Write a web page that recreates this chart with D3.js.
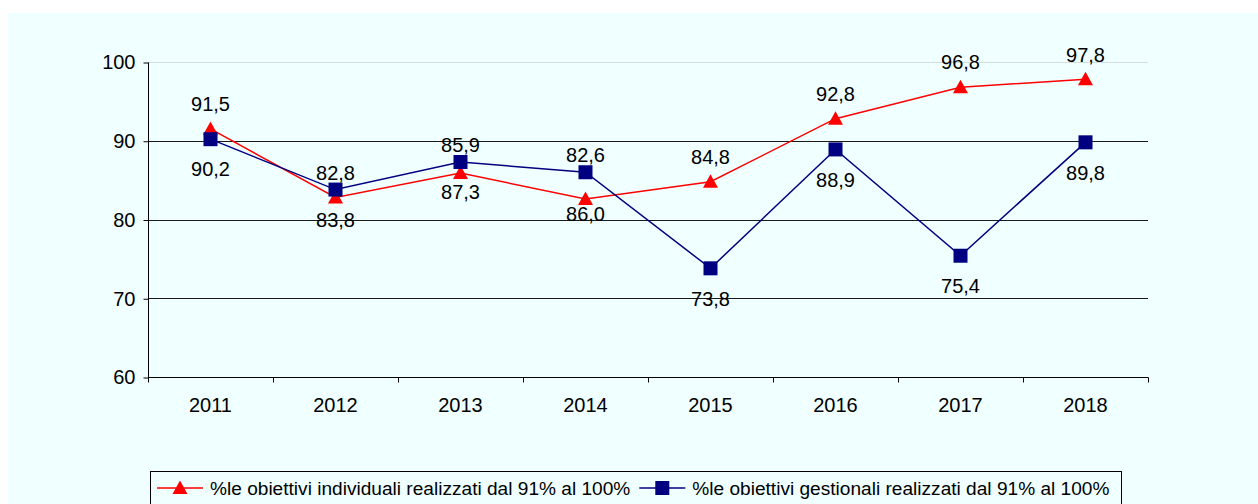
<!DOCTYPE html>
<html>
<head>
<meta charset="utf-8">
<script src="https://cdn.jsdelivr.net/npm/d3@7/dist/d3.min.js"></script>
<style>
  html, body { margin: 0; padding: 0; background: #ffffff; }
  svg { display: block; }
  text { font-family: "Liberation Sans", Arial, sans-serif; fill: #000; }
</style>
</head>
<body>
<svg id="chart" width="1258" height="504"></svg>
<script>
const years = ["2011", "2012", "2013", "2014", "2015", "2016", "2017", "2018"];
const individuali = [91.5, 82.8, 85.9, 82.6, 84.8, 92.8, 96.8, 97.8];
const gestionali  = [90.2, 83.8, 87.3, 86.0, 73.8, 88.9, 75.4, 89.8];
const yTicks = [60, 70, 80, 90, 100];
const seriesNames = [
  "%le obiettivi individuali realizzati dal 91% al 100%",
  "%le obiettivi gestionali realizzati dal 91% al 100%"
];
const fmt = v => d3.format(".1f")(v).replace(".", ",");

(function () {
const svg = d3.select("#chart");
const W = 1258, H = 504;
const FS = "20px";

// chart background
svg.append("rect").attr("x", 8).attr("y", 13).attr("width", W - 8).attr("height", H - 13)
  .attr("fill", "#F0FFFF");

const pLeft = 148, pRight = 1148, pTop = 62, pBottom = 377;
const x = d3.scaleBand().domain(years).range([pLeft, pRight]).padding(0);
const y = d3.scaleLinear().domain([60, 100]).range([pBottom, pTop]);
const cx = d => x(d) + x.bandwidth() / 2;

// gridlines
svg.append("g").selectAll("line").data(yTicks.filter(t => t > 60)).join("line")
  .attr("x1", pLeft).attr("x2", pRight)
  .attr("y1", d => Math.round(y(d)) + 0.5).attr("y2", d => Math.round(y(d)) + 0.5)
  .attr("stroke", d => d === 100 ? "#d3dede" : "#1a1a1a").attr("stroke-width", 1);

// y axis
const yAxis = d3.axisLeft(y).tickValues(yTicks).tickSize(5).tickPadding(8).tickFormat(d3.format("d"));
const gy = svg.append("g").attr("transform", `translate(${pLeft + 0.5},0.5)`).call(yAxis);
gy.select(".domain").attr("stroke", "#000").attr("d", `M0,${y(100)}V${y(60)}`);
gy.selectAll(".tick line").attr("stroke", "#000");
gy.selectAll("text").style("font-size", FS).style("font-family", "Liberation Sans, Arial, sans-serif").attr("fill", "#000");

// x axis
const gx = svg.append("g").attr("transform", `translate(0,${Math.round(pBottom) + 0.5})`);
gx.append("line").attr("x1", pLeft).attr("x2", pRight + 0.5).attr("stroke", "#000");
const bounds = years.map(d => x(d)).concat([pRight]);
gx.selectAll("line.tk").data(bounds).join("line").attr("class", "tk")
  .attr("x1", d => Math.round(d) + 0.5).attr("x2", d => Math.round(d) + 0.5)
  .attr("y1", 0).attr("y2", 5).attr("stroke", "#000");
gx.selectAll("text").data(years).join("text")
  .attr("x", d => cx(d)).attr("y", 27).attr("dy", "0.36em").attr("text-anchor", "middle")
  .style("font-size", FS).text(d => d);

// lines
const line = d3.line().x((d, i) => cx(years[i])).y(d => y(d));
svg.append("path").datum(individuali).attr("d", line)
  .attr("fill", "none").attr("stroke", "#FF0000").attr("stroke-width", 1.5);
svg.append("path").datum(gestionali).attr("d", line)
  .attr("fill", "none").attr("stroke", "#000080").attr("stroke-width", 1.5);

// markers
svg.append("g").selectAll("path").data(individuali).join("path")
  .attr("d", "M0,-7.5L7.5,6L-7.5,6Z")
  .attr("transform", (d, i) => `translate(${cx(years[i])},${y(d)})`)
  .attr("fill", "#FF0000");
svg.append("g").selectAll("rect").data(gestionali).join("rect")
  .attr("x", (d, i) => cx(years[i]) - 7).attr("y", d => y(d) - 7)
  .attr("width", 14).attr("height", 14).attr("fill", "#000080");

// data labels: individual above, gestional below (avoid collisions)
const labels = svg.append("g");
years.forEach((yr, i) => {
  const yr1 = y(individuali[i]), yb = y(gestionali[i]);
  const yUp = Math.min(yr1 - 25, yb - 17);
  const yLo = Math.max(yb + 30, yr1 + 15);
  labels.append("text").attr("x", cx(yr)).attr("y", yUp).attr("dy", "0.36em")
    .attr("text-anchor", "middle").style("font-size", FS).text(fmt(individuali[i]));
  labels.append("text").attr("x", cx(yr)).attr("y", yLo).attr("dy", "0.36em")
    .attr("text-anchor", "middle").style("font-size", FS).text(fmt(gestionali[i]));
});

// legend
const lg = svg.append("g");
const lgLeft = 150.5, lgTop = 471.5, lgY = 488;
lg.append("rect").attr("x", lgLeft).attr("y", lgTop).attr("width", 971).attr("height", 60)
  .attr("fill", "none").attr("stroke", "#000").attr("stroke-width", 1);
let xpos = 157;
seriesNames.forEach((name, k) => {
  const col = k === 0 ? "#FF0000" : "#000080";
  lg.append("line").attr("x1", xpos).attr("x2", xpos + 46).attr("y1", lgY).attr("y2", lgY)
    .attr("stroke", col).attr("stroke-width", 1.5);
  if (k === 0) {
    lg.append("path").attr("d", "M0,-7.5L7.5,6L-7.5,6Z")
      .attr("transform", `translate(${xpos + 23},${lgY})`).attr("fill", col);
  } else {
    lg.append("rect").attr("x", xpos + 23 - 7).attr("y", lgY - 7).attr("width", 14).attr("height", 14).attr("fill", col);
  }
  const t = lg.append("text").attr("x", xpos + 53).attr("y", lgY).attr("dy", "0.36em")
    .style("font-size", "19.1px").text(name);
  const w = t.node().getComputedTextLength();
  xpos = xpos + 53 + w + 9;
});
})();
</script>
</body>
</html>
